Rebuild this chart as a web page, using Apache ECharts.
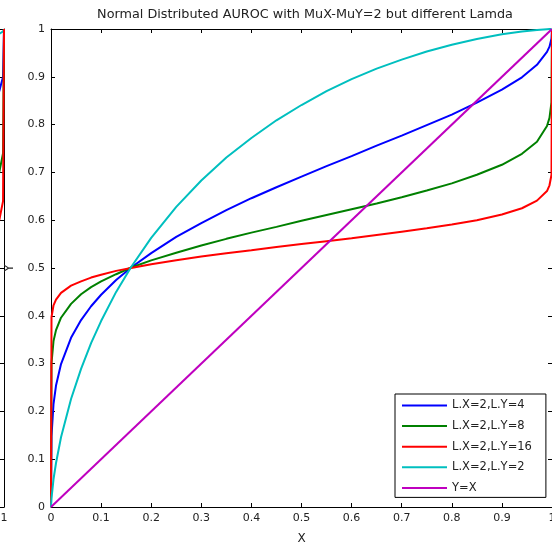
<!DOCTYPE html>
<html>
<head>
  <meta charset="UTF-8">
  <title>Normal Distributed AUROC</title>
  <style>
    * { margin: 0; padding: 0; }
    body { background: #fff; }
    #chart { width: 552px; height: 547px; }
  </style>
  <script src="https://cdn.jsdelivr.net/npm/echarts@6/dist/echarts.min.js"></script>
</head>
<body>
  <div id="chart"></div>
  <script>
    // false positive rate samples (shared by every ROC curve)
    const fpr = [0, 0.001, 0.005, 0.01, 0.02, 0.04, 0.06, 0.08, 0.1, 0.13, 0.16, 0.2, 0.25, 0.3, 0.35,
      0.4, 0.45, 0.5, 0.55, 0.6, 0.65, 0.7, 0.75, 0.8, 0.85, 0.9, 0.94, 0.97, 0.99, 0.995, 0.999, 1];

    // true positive rate
    const tprY4 = [0, 0.148, 0.215, 0.254, 0.299, 0.354, 0.391, 0.42, 0.444, 0.475, 0.501, 0.531, 0.565, 0.594, 0.621,
      0.646, 0.669, 0.691, 0.713, 0.734, 0.756, 0.777, 0.799, 0.821, 0.846, 0.873, 0.899, 0.925, 0.952, 0.963, 0.98, 1];
    const tprY8 = [0, 0.301, 0.347, 0.37, 0.396, 0.425, 0.445, 0.46, 0.472, 0.487, 0.501, 0.516, 0.532, 0.547, 0.561,
      0.574, 0.586, 0.599, 0.611, 0.623, 0.635, 0.648, 0.662, 0.677, 0.695, 0.716, 0.739, 0.764, 0.797, 0.814, 0.847, 1];
    const tprY16 = [0, 0.397, 0.422, 0.434, 0.448, 0.463, 0.472, 0.48, 0.486, 0.494, 0.5, 0.508, 0.516, 0.524, 0.531,
      0.537, 0.544, 0.55, 0.556, 0.562, 0.569, 0.576, 0.583, 0.591, 0.6, 0.612, 0.625, 0.641, 0.661, 0.673, 0.695, 1];
    const tprY2 = [0, 0.018, 0.058, 0.092, 0.146, 0.226, 0.289, 0.343, 0.389, 0.45, 0.502, 0.563, 0.628, 0.683, 0.731,
      0.772, 0.809, 0.841, 0.87, 0.895, 0.917, 0.936, 0.953, 0.967, 0.979, 0.989, 0.995, 0.998, 0.9997, 1, 1, 1];
    const diagX = [0, 1];
    const diagY = [0, 1];

    const names = ['L.X=2,L.Y=4', 'L.X=2,L.Y=8', 'L.X=2,L.Y=16', 'L.X=2,L.Y=2', 'Y=X'];
    const colors = ['#0000ff', '#008000', '#ff0000', '#00bfbf', '#bf00bf'];

    // right edge of the neighbouring figure, only a sliver shows at the left
    const sideX = [0.97, 0.99, 0.998, 1];
    const sideRed = [0.58, 0.6, 0.64, 1];
    const sideGreen = [0.66, 0.7, 0.74, 1];
    const sideBlue = [0.84, 0.87, 0.9, 1];
    const sideCyan = [0.985, 0.99, 0.995, 1];

    const zip = (xs, ys) => xs.map((x, i) => [x, ys[i]]);
    const font = 'DejaVu Sans';

    const baseAxis = {
      type: 'value', min: 0, max: 1, interval: 0.1,
      axisLine: { show: true, onZero: false, lineStyle: { color: '#000', width: 1 } },
      axisTick: { show: true, inside: true, length: 4, lineStyle: { color: '#000' } },
      splitLine: { show: false }
    };
    const labelStyle = { fontFamily: font, fontSize: 11, color: '#222', margin: 6 };

    const chart = echarts.init(document.getElementById('chart'));
    chart.setOption({
      animation: false,
      title: {
        text: 'Normal Distributed AUROC with MuX-MuY=2 but different Lamda',
        left: 300, textAlign: 'center', top: 3,
        textStyle: { fontFamily: font, fontSize: 12.8, fontWeight: 'normal', color: '#222' }
      },
      // y axis title, placed by hand (axis name gets pushed off by the labels)
      graphic: [{
        type: 'text', x: 10, y: 268, rotation: Math.PI / 2, z: 100,
        style: { text: 'Y', fontFamily: font, fontSize: 12, fill: '#222', align: 'center', verticalAlign: 'middle' }
      }],
      grid: [
        { left: 51, top: 29, right: 0, bottom: 40, outerBoundsMode: 'none', containLabel: false },
        { left: -470, top: 29, width: 474, bottom: 40, outerBoundsMode: 'none', containLabel: false }
      ],
      xAxis: [
        Object.assign({}, baseAxis, {
          gridIndex: 0, position: 'bottom', name: 'X', nameLocation: 'middle', nameGap: 26,
          nameTextStyle: { fontFamily: font, fontSize: 12, color: '#222' },
          axisLabel: labelStyle
        }),
        Object.assign({}, baseAxis, { gridIndex: 0, position: 'top', axisLabel: { show: false } }),
        Object.assign({}, baseAxis, { gridIndex: 1, position: 'bottom', axisLabel: labelStyle })
      ],
      yAxis: [
        Object.assign({}, baseAxis, { gridIndex: 0, position: 'left', axisLabel: labelStyle }),
        Object.assign({}, baseAxis, { gridIndex: 0, position: 'right', axisLabel: { show: false } }),
        Object.assign({}, baseAxis, { gridIndex: 1, position: 'right', axisLabel: { show: false } })
      ],
      legend: {
        data: names,
        orient: 'vertical',
        left: 395, top: 394,
        padding: [5, 14, 3, 7],
        icon: 'rect',
        itemWidth: 45, itemHeight: 2, itemGap: 7.6,
        backgroundColor: '#fff',
        borderColor: '#000', borderWidth: 1, borderRadius: 0,
        textStyle: { fontFamily: font, fontSize: 11.5, color: '#222', lineHeight: 13 }
      },
      series: [
        { name: names[0], data: zip(fpr, tprY4), color: colors[0] },
        { name: names[1], data: zip(fpr, tprY8), color: colors[1] },
        { name: names[2], data: zip(fpr, tprY16), color: colors[2] },
        { name: names[3], data: zip(fpr, tprY2), color: colors[3] },
        { name: names[4], data: zip(diagX, diagY), color: colors[4] },
        { name: 'side blue', data: zip(sideX, sideBlue), xAxisIndex: 2, yAxisIndex: 2, color: colors[0] },
        { name: 'side green', data: zip(sideX, sideGreen), xAxisIndex: 2, yAxisIndex: 2, color: colors[1] },
        { name: 'side cyan', data: zip(sideX, sideCyan), xAxisIndex: 2, yAxisIndex: 2, color: colors[3] },
        { name: 'side red', data: zip(sideX, sideRed), xAxisIndex: 2, yAxisIndex: 2, color: colors[2] }
      ].map(s => Object.assign({
        type: 'line', symbol: 'none', smooth: false,
        lineStyle: { width: 2, color: s.color },
        itemStyle: { color: s.color }
      }, s))
    });
  </script>
</body>
</html>
